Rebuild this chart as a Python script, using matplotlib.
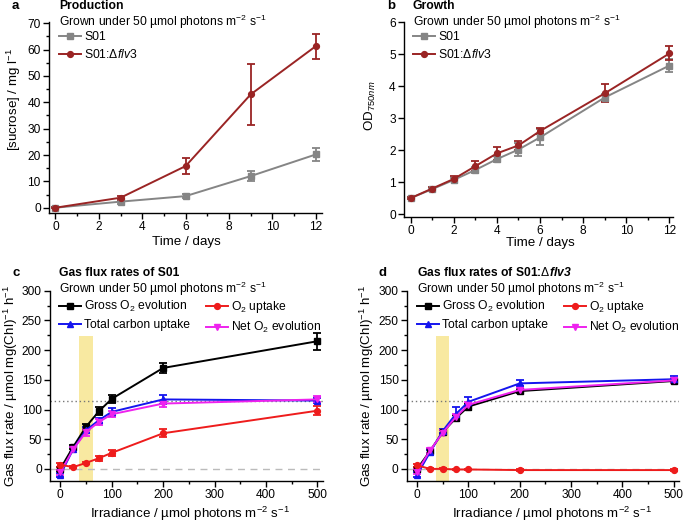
import matplotlib
matplotlib.use('Agg')
import matplotlib.pyplot as plt
from matplotlib.ticker import MultipleLocator

plt.rcParams['font.family'] = ['Liberation Sans', 'DejaVu Sans']
plt.rcParams['mathtext.fontset'] = 'custom'
plt.rcParams['mathtext.rm'] = 'Liberation Sans'
plt.rcParams['mathtext.it'] = 'Liberation Sans:italic'
plt.rcParams['mathtext.bf'] = 'Liberation Sans:bold'
plt.rcParams['mathtext.bfit'] = 'Liberation Sans:italic:bold'
plt.rcParams['axes.linewidth'] = 1.0
plt.rcParams['xtick.direction'] = 'out'
plt.rcParams['ytick.direction'] = 'out'

# ---- panel a: sucrose production
days_a = [0, 3, 6, 9, 12]
suc_s01 = [0, 2.3, 4.4, 12.0, 20.2]
suc_s01_err = [0.3, 1.0, 0.8, 2.0, 2.3]
suc_flv3 = [0, 3.8, 15.8, 43.0, 61.3]
suc_flv3_err = [0.3, 0.8, 3.0, 11.7, 4.7]

# ---- panel b: growth
days_b = [0, 1, 2, 3, 4, 5, 6, 9, 12]
od_s01 = [0.5, 0.78, 1.07, 1.38, 1.72, 2.02, 2.4, 3.65, 4.65]
od_s01_err = [0.03, 0.05, 0.05, 0.1, 0.1, 0.2, 0.25, 0.12, 0.2]
od_flv3 = [0.5, 0.8, 1.1, 1.5, 1.9, 2.15, 2.6, 3.78, 5.03]
od_flv3_err = [0.03, 0.05, 0.08, 0.15, 0.2, 0.15, 0.1, 0.28, 0.22]

# ---- panels c/d: gas flux
light = [0, 25, 50, 75, 100, 200, 500]
c_gross = [0, 37, 71, 97, 118, 170, 215]
c_gross_err = [4, 3, 4, 7, 7, 8, 14]
c_uptake = [7, 3, 10, 18, 27, 60, 98]
c_uptake_err = [3, 2, 2, 4, 5, 7, 8]
c_carbon = [-10, 33, 65, 82, 96, 117, 115]
c_carbon_err = [3, 4, 5, 4, 7, 7, 4]
c_net = [-6, 33, 62, 79, 92, 110, 117]
c_net_err = [4, 4, 6, 5, 5, 5, 5]

d_gross = [0, 30, 62, 85, 105, 131, 148]
d_gross_err = [3, 4, 4, 5, 5, 4, 4]
d_uptake = [6, 0, 0, -1, -1, -2, -2]
d_uptake_err = [3, 1, 1, 1, 1, 1, 1]
d_carbon = [-10, 28, 64, 92, 113, 144, 151]
d_carbon_err = [4, 4, 4, 12, 8, 5, 5]
d_net = [-5, 31, 61, 87, 108, 133, 149]
d_net_err = [4, 4, 4, 5, 5, 4, 4]

GRAY = '#858585'
DRED = '#9a2424'
subtitle = r'Grown under 50 µmol photons m$^{-2}$ s$^{-1}$'
W, H = 685, 522

fig = plt.figure(figsize=(6.85, 5.22), dpi=100)
ax_a = fig.add_axes([0.0715, 0.592, 0.399, 0.366])
ax_b = fig.add_axes([0.590, 0.585, 0.392, 0.372])
ax_c = fig.add_axes([0.073, 0.079, 0.398, 0.364])
ax_d = fig.add_axes([0.594, 0.079, 0.397, 0.364])


def series(ax, x, y, err, color, marker, label, ms=4.2):
    ax.errorbar(x, y, yerr=err, color=color, marker=marker, ms=ms, lw=1.4,
                elinewidth=1.3, capsize=3, capthick=1.3, label=label)


def style(ax):
    for s in ['top', 'right']:
        ax.spines[s].set_visible(False)
    ax.tick_params(which='major', length=4, width=1, labelsize=8.6, pad=2)
    ax.tick_params(which='minor', length=2, width=1)


# a
series(ax_a, days_a, suc_s01, suc_s01_err, GRAY, 's', 'S01')
series(ax_a, days_a, suc_flv3, suc_flv3_err, DRED, 'o', r'S01:$\Delta\mathit{flv3}$')
ax_a.set_xlim(-0.3, 12.3)
ax_a.set_ylim(-2, 70.5)
ax_a.xaxis.set_major_locator(MultipleLocator(2))
ax_a.xaxis.set_minor_locator(MultipleLocator(1))
ax_a.yaxis.set_major_locator(MultipleLocator(10))
ax_a.yaxis.set_minor_locator(MultipleLocator(5))

# b
series(ax_b, days_b, od_s01, od_s01_err, GRAY, 's', 'S01')
series(ax_b, days_b, od_flv3, od_flv3_err, DRED, 'o', r'S01:$\Delta\mathit{flv3}$')
ax_b.set_xlim(-0.3, 12.15)
ax_b.set_ylim(-0.08, 6)
ax_b.xaxis.set_major_locator(MultipleLocator(2))
ax_b.xaxis.set_minor_locator(MultipleLocator(1))
ax_b.yaxis.set_major_locator(MultipleLocator(1))

# c, d
for ax, g, ge, u, ue, cc, ce, n, ne in [
        (ax_c, c_gross, c_gross_err, c_uptake, c_uptake_err, c_carbon, c_carbon_err, c_net, c_net_err),
        (ax_d, d_gross, d_gross_err, d_uptake, d_uptake_err, d_carbon, d_carbon_err, d_net, d_net_err)]:
    ax.axvspan(36, 63, ymax=(224 + 20) / 320, color='#f8e9a1', lw=0, zorder=0)
    ax.axhline(115, color='#777777', ls=(0, (1, 2)), lw=1, zorder=1)
    ax.axhline(0, color='#bbbbbb', ls=(0, (5, 4)), lw=1, zorder=1)
    series(ax, light, g, ge, 'black', 's', r'Gross O$_2$ evolution')
    series(ax, light, cc, ce, '#1515ee', '^', 'Total carbon uptake')
    series(ax, light, n, ne, '#ee22ee', 'v', r'Net O$_2$ evolution')
    series(ax, light, u, ue, '#ee1c1c', 'o', r'O$_2$ uptake')
    ax.set_xlim(-20, 510)
    ax.set_ylim(-20, 300)
    ax.xaxis.set_major_locator(MultipleLocator(100))
    ax.xaxis.set_minor_locator(MultipleLocator(50))
    ax.yaxis.set_major_locator(MultipleLocator(50))
    ax.yaxis.set_minor_locator(MultipleLocator(25))

for ax in [ax_a, ax_b, ax_c, ax_d]:
    style(ax)

# axis labels placed at the reference pixel positions
xlab_irr = r'Irradiance / µmol photons m$^{-2}$ s$^{-1}$'
ylab_gas = r'Gas flux rate / µmol mg(Chl)$^{-1}$ h$^{-1}$'
for txt, x, y in [('Time / days', 186, 242), ('Time / days', 540, 243),
                  (xlab_irr, 190, 514), (xlab_irr, 552, 514)]:
    fig.text(x / W, 1 - y / H, txt, fontsize=9.6, ha='center', va='center')
for txt, x, y in [(r'[sucrose] / mg l$^{-1}$', 14, 99), (r'OD$_{750nm}$', 370, 106),
                  (ylab_gas, 11, 386), (ylab_gas, 367, 386)]:
    fig.text(x / W, 1 - y / H, txt, fontsize=9.6, ha='center', va='center', rotation=90)

# panel letters, titles, subtitles
for letter, lx, tx, ty, title in [
        ('a', 12, 59, 6, 'Production'),
        ('b', 387, 413, 6, 'Growth'),
        ('c', 12, 59, 273, 'Gas flux rates of S01'),
        ('d', 379, 417, 273, r'Gas flux rates of S01:$\Delta\mathbfit{flv3}$')]:
    fig.text(lx / W, 1 - ty / H, letter, fontsize=9.5, fontweight='bold', va='center')
    fig.text(tx / W, 1 - ty / H, title, fontsize=8.7, fontweight='bold', va='center')
    fig.text(tx / W, 1 - (ty + 16) / H, subtitle, fontsize=8.7, va='center')

# legends
for ax, x0, y0 in [(ax_a, 59, 31), (ax_b, 413, 31)]:
    h, l = ax.get_legend_handles_labels()
    h = [hh[0] for hh in h]
    ax.legend(h, l, loc='upper left', bbox_to_anchor=(x0 / W, 1 - y0 / H),
              bbox_transform=fig.transFigure, frameon=False, fontsize=8.7,
              handlelength=1.8, handletextpad=0.3, borderpad=0, labelspacing=0.42,
              borderaxespad=0)

for ax, x0, y0 in [(ax_c, 59, 299), (ax_d, 417, 299)]:
    h, l = ax.get_legend_handles_labels()
    h = [hh[0] for hh in h]
    order = [0, 1, 3, 2]
    ax.legend([h[i] for i in order], [l[i] for i in order], ncol=2, loc='upper left',
              bbox_to_anchor=(x0 / W, 1 - y0 / H), bbox_transform=fig.transFigure,
              frameon=False, fontsize=8.7, handlelength=1.8, handletextpad=0.3,
              borderpad=0, labelspacing=0.4, borderaxespad=0, columnspacing=1.3)

fig.savefig('out.png', dpi=100)
